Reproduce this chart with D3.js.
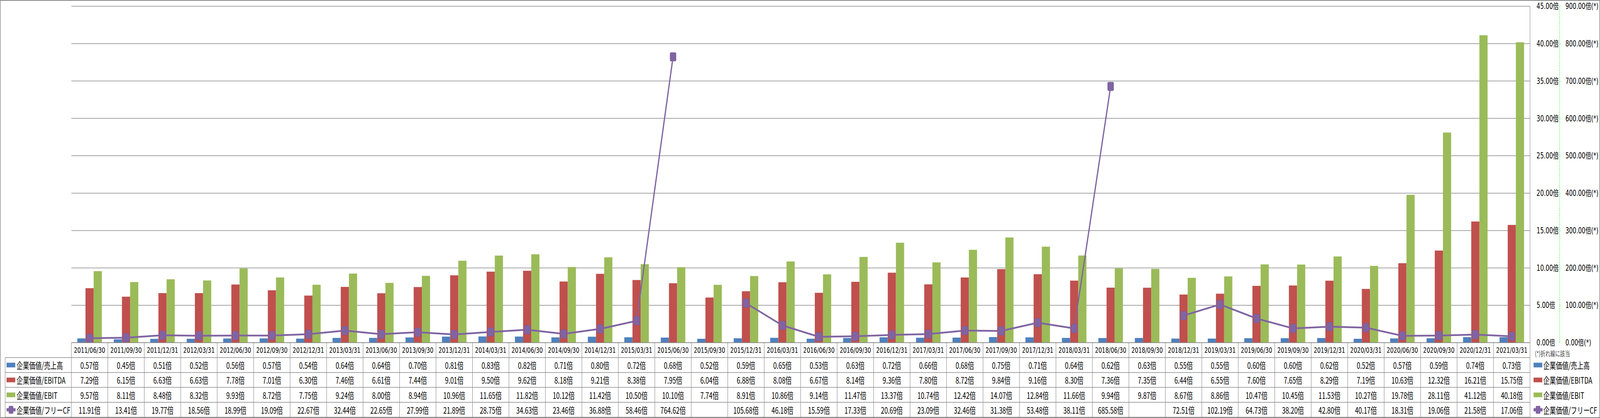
<!DOCTYPE html>
<html>
<head>
<meta charset="utf-8">
<script src="https://cdn.jsdelivr.net/npm/d3@7"></script>
<style>
  html, body { margin: 0; padding: 0; background: #fff; overflow: hidden; }
  svg { display: block; }
</style>
</head>
<body>
<svg id="chart"></svg>
<script>
var dates = ["2011/06/30","2011/09/30","2011/12/31","2012/03/31","2012/06/30","2012/09/30","2012/12/31","2013/03/31",
  "2013/06/30","2013/09/30","2013/12/31","2014/03/31","2014/06/30","2014/09/30","2014/12/31","2015/03/31",
  "2015/06/30","2015/09/30","2015/12/31","2016/03/31","2016/06/30","2016/09/30","2016/12/31","2017/03/31",
  "2017/06/30","2017/09/30","2017/12/31","2018/03/31","2018/06/30","2018/09/30","2018/12/31","2019/03/31",
  "2019/06/30","2019/09/30","2019/12/31","2020/03/31","2020/06/30","2020/09/30","2020/12/31","2021/03/31"];

var evSales = [0.57,0.45,0.51,0.52,0.56,0.57,0.54,0.64,0.64,0.70,0.81,0.83,0.82,0.71,0.80,0.72,
  0.68,0.52,0.59,0.65,0.53,0.63,0.72,0.66,0.68,0.75,0.71,0.64,0.62,0.63,0.55,0.55,0.60,0.60,0.62,0.52,
  0.57,0.59,0.74,0.73];

var evEbitda = [7.29,6.15,6.63,6.63,7.78,7.01,6.30,7.46,6.61,7.44,9.01,9.50,9.62,8.18,9.21,8.38,
  7.95,6.04,6.88,8.08,6.67,8.14,9.36,7.80,8.72,9.84,9.16,8.30,7.36,7.35,6.44,6.55,7.60,7.65,8.29,7.19,
  10.63,12.32,16.21,15.75];

var evEbit = [9.57,8.11,8.48,8.32,9.93,8.72,7.75,9.24,8.00,8.94,10.96,11.65,11.82,10.12,11.42,10.50,
  10.10,7.74,8.91,10.86,9.14,11.47,13.37,10.74,12.42,14.07,12.84,11.66,9.94,9.87,8.67,8.86,10.47,10.45,
  11.53,10.27,19.78,28.11,41.12,40.18];

var evFcf = [11.91,13.41,19.77,18.56,18.99,19.09,22.67,32.44,22.65,27.99,21.89,28.75,34.63,23.46,36.88,58.46,
  764.62,null,105.68,46.18,15.59,17.33,20.69,23.09,32.46,31.38,53.48,38.11,685.58,null,72.51,102.19,
  64.73,38.20,42.80,40.17,18.31,19.06,21.58,17.06];

var seriesNames = ["企業価値/売上高","企業価値/EBITDA","企業価値/EBIT","企業価値/フリーCF"];
var leftTicks = [0,5,10,15,20,25,30,35,40,45];
var rightTicks = [0,100,200,300,400,500,600,700,800,900];
var lineNote = "(*)折れ線に該当";

var WIDTH = 5876, HEIGHT = 1071,
    PLOT = { left: 262, right: 5619, top: 16, bottom: 878 },
    ROW_H = 38.2,
    colors = ["#4F81BD", "#C0504D", "#9BBB59", "#8064A2"],
    gridColor = "#878787",
    cjk = "'Noto Sans CJK JP', 'Noto Sans', sans-serif",
    dv = "'DejaVu Sans', 'Noto Sans CJK JP', sans-serif";

// draw in 5876x1071 units, stretched to whatever the window really is
var viewW = window.innerWidth || WIDTH,
    viewH = window.innerHeight || HEIGHT;

var svg = d3.select("#chart")
    .attr("width", viewW).attr("height", viewH)
    .attr("viewBox", "0 0 " + WIDTH + " " + HEIGHT)
    .attr("preserveAspectRatio", "none");

// outer chart frame
svg.append("rect")
    .attr("x", 1).attr("y", 1)
    .attr("width", WIDTH - 2).attr("height", HEIGHT - 2)
    .attr("fill", "none").attr("stroke", gridColor).attr("stroke-width", 2);

var xScale = d3.scaleBand().domain(dates).range([PLOT.left, PLOT.right]),
    xBar = d3.scaleBand().domain([0, 1, 2]).range([0, xScale.bandwidth()]).paddingOuter(0.73),
    yScale = d3.scaleLinear().domain([0, 45]).range([PLOT.bottom, PLOT.top]),
    y2Scale = d3.scaleLinear().domain([0, 900]).range([PLOT.bottom, PLOT.top]);

// horizontal gridlines
svg.append("g").selectAll("line")
    .data(leftTicks)
    .join("line")
    .attr("x1", PLOT.left).attr("x2", PLOT.right)
    .attr("y1", function (d) { return yScale(d); })
    .attr("y2", function (d) { return yScale(d); })
    .attr("stroke", gridColor).attr("stroke-width", 1.5);

// plot area right edge
svg.append("line")
    .attr("x1", PLOT.right).attr("x2", PLOT.right)
    .attr("y1", PLOT.top).attr("y2", PLOT.bottom)
    .attr("stroke", gridColor).attr("stroke-width", 1.5);

// bars
var barSeries = [evSales, evEbitda, evEbit];
barSeries.forEach(function (vals, si) {
  svg.append("g").selectAll("rect")
      .data(vals)
      .join("rect")
      .attr("x", function (d, i) { return xScale(dates[i]) + xBar(si); })
      .attr("width", xBar.bandwidth())
      .attr("y", function (d) { return yScale(d); })
      .attr("height", function (d) { return yScale(0) - yScale(d); })
      .attr("fill", colors[si]);
});

// free CF line on the secondary axis
var lineGen = d3.line()
    .defined(function (d) { return d != null; })
    .x(function (d, i) { return xScale(dates[i]) + xScale.bandwidth() / 2; })
    .y(function (d) { return y2Scale(d); });

svg.append("path")
    .attr("d", lineGen(evFcf))
    .attr("fill", "none")
    .attr("stroke", colors[3])
    .attr("stroke-width", 4.5);

svg.append("g").selectAll("rect")
    .data(evFcf.map(function (v, i) { return { v: v, i: i }; }).filter(function (d) { return d.v != null; }))
    .join("rect")
    .attr("x", function (d) { return xScale(dates[d.i]) + xScale.bandwidth() / 2 - 11; })
    .attr("y", function (d) { return y2Scale(d.v) - 11; })
    .attr("width", 22).attr("height", 22).attr("rx", 3)
    .attr("fill", colors[3]).attr("stroke", "#7659a0").attr("stroke-width", 1);

// primary axis (left-aligned labels, dashed green line)
var yAxis = d3.axisLeft(yScale)
    .tickValues(leftTicks)
    .tickSize(-3)
    .tickFormat(function (d) { return d.toFixed(2) + "倍"; });

var gy = svg.append("g")
    .attr("transform", "translate(5728,0)")
    .call(yAxis);
gy.select(".domain").remove();
gy.selectAll(".tick line").attr("stroke", "#00ff00").attr("stroke-width", 1);
gy.selectAll(".tick text")
    .attr("x", -85).attr("text-anchor", "start")
    .attr("fill", "#000").style("font", "21px " + dv);
gy.append("line")
    .attr("y1", PLOT.top).attr("y2", PLOT.bottom)
    .attr("stroke", "#00ff00").attr("stroke-width", 1.2)
    .attr("stroke-dasharray", "4,2");

// secondary axis
var y2Axis = d3.axisRight(y2Scale)
    .tickValues(rightTicks)
    .tickSize(0)
    .tickFormat(function (d) { return d.toFixed(2) + "倍(*)"; });

var gy2 = svg.append("g")
    .attr("transform", "translate(5746,0)")
    .call(y2Axis);
gy2.select(".domain").remove();
gy2.selectAll(".tick text")
    .attr("x", 3).attr("fill", "#000").style("font", "21px " + dv);

svg.append("text")
    .attr("x", 5637).attr("y", 905)
    .attr("dominant-baseline", "central")
    .attr("fill", "#404040")
    .style("font", "18px " + cjk)
    .text(lineNote);

// data table
var tableLeft = 19,
    rowTop = function (r) { return PLOT.bottom + r * ROW_H; },
    tableBottom = rowTop(5);

var table = svg.append("g");

// horizontal rules
[0, 1, 2, 3, 4, 5].forEach(function (r) {
  table.append("line")
      .attr("x1", r === 0 ? PLOT.left : tableLeft).attr("x2", PLOT.right)
      .attr("y1", rowTop(r)).attr("y2", rowTop(r))
      .attr("stroke", gridColor).attr("stroke-width", 1.5);
});

// vertical rules
table.selectAll("line.col")
    .data(dates.concat(["end"]))
    .join("line")
    .attr("class", "col")
    .attr("x1", function (d) { return d === "end" ? PLOT.right : xScale(d); })
    .attr("x2", function (d) { return d === "end" ? PLOT.right : xScale(d); })
    .attr("y1", rowTop(0)).attr("y2", tableBottom)
    .attr("stroke", gridColor).attr("stroke-width", 1.5);

table.append("line")
    .attr("x1", tableLeft).attr("x2", tableLeft)
    .attr("y1", rowTop(1)).attr("y2", tableBottom)
    .attr("stroke", gridColor).attr("stroke-width", 1.5);

// header row
table.append("g").selectAll("text")
    .data(dates)
    .join("text")
    .attr("x", function (d) { return xScale(d) + xScale.bandwidth() / 2; })
    .attr("y", rowTop(0) + ROW_H / 2)
    .attr("text-anchor", "middle").attr("dominant-baseline", "central")
    .style("font", "20px " + dv)
    .text(function (d) { return d; });

// value rows
var allSeries = [evSales, evEbitda, evEbit, evFcf];
allSeries.forEach(function (vals, si) {
  table.append("g").selectAll("text")
      .data(vals)
      .join("text")
      .attr("x", function (d, i) { return xScale(dates[i]) + xScale.bandwidth() / 2; })
      .attr("y", rowTop(si + 1) + ROW_H / 2)
      .attr("text-anchor", "middle").attr("dominant-baseline", "central")
      .style("font", "23px " + cjk)
      .text(function (d) { return d == null ? "" : d.toFixed(2) + "倍"; });
});

// legend keys (in table and at the right)
function legendKey(g, si, x, cy) {
  if (si < 3) {
    g.append("rect")
        .attr("x", x).attr("y", cy - 6)
        .attr("width", 32).attr("height", 12)
        .attr("fill", colors[si]);
  } else {
    g.append("line")
        .attr("x1", x).attr("x2", x + 33)
        .attr("y1", cy).attr("y2", cy)
        .attr("stroke", colors[3]).attr("stroke-width", 8);
    g.append("rect")
        .attr("x", x + 8).attr("y", cy - 10)
        .attr("width", 17).attr("height", 20).attr("rx", 3)
        .attr("fill", colors[3]);
  }
}

seriesNames.forEach(function (name, si) {
  var cy = rowTop(si + 1) + ROW_H / 2;
  legendKey(table, si, 24, cy);
  table.append("text")
      .attr("x", 61).attr("y", cy)
      .attr("dominant-baseline", "central")
      .style("font", "23px " + cjk)
      .text(name);

  legendKey(svg, si, 5632, cy);
  svg.append("text")
      .attr("x", 5668).attr("y", cy)
      .attr("dominant-baseline", "central")
      .style("font", "23px " + cjk)
      .text(name);
});
</script>
</body>
</html>
